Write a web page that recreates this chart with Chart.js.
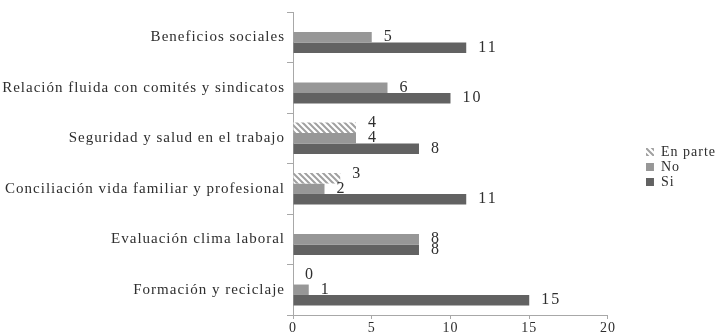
<!DOCTYPE html>
<html>
<head>
<meta charset="utf-8">
<script src="https://cdn.jsdelivr.net/npm/chart.js@4"></script>
<style>
  html, body { margin: 0; padding: 0; background: #fff; }
  #wrap { width: 719px; height: 336px; }
</style>
</head>
<body>
<div id="wrap"><canvas id="chart"></canvas></div>
<script>
const categories = [
  'Beneficios sociales',
  'Relación fluida con comités y sindicatos',
  'Seguridad y salud en el trabajo',
  'Conciliación vida familiar y profesional',
  'Evaluación clima laboral',
  'Formación y reciclaje'
];
const enParte = [null, null, 4, 3, null, 0];
const no = [5, 6, 4, 2, 8, 1];
const si = [11, 10, 8, 11, 8, 15];
const xTicks = [0, 5, 10, 15, 20];

const TEXT = '#2e2e2e';
const AXIS = '#a8a8a8';
const SERIF = "'Liberation Serif', 'Times New Roman', serif";

// diagonal stripes for "En parte"
function hatch() {
  const c = document.createElement('canvas');
  c.width = 6; c.height = 6;
  const g = c.getContext('2d');
  g.fillStyle = '#fff';
  g.fillRect(0, 0, 6, 6);
  g.strokeStyle = '#a0a0a0';
  g.lineWidth = 2;
  g.beginPath();
  g.moveTo(-1, -1); g.lineTo(7, 7);
  g.moveTo(-4, 2); g.lineTo(4, 10);
  g.moveTo(2, -4); g.lineTo(10, 4);
  g.stroke();
  return g.createPattern(c, 'repeat');
}

// wider type spacing for all canvas text
const spacing = {
  id: 'spacing',
  beforeLayout(chart) { chart.ctx.letterSpacing = '1px'; },
  beforeDraw(chart) { chart.ctx.letterSpacing = '1px'; }
};

// keep the legend near the right edge, a little above centre
const legendNudge = {
  id: 'legendNudge',
  afterLayout(chart) {
    const lg = chart.legend;
    lg.left += 37; lg.right += 37;
    lg.top -= 7; lg.bottom -= 7;
  }
};

// value printed right of each bar
const valueLabels = {
  id: 'valueLabels',
  afterDatasetsDraw(chart) {
    const ctx = chart.ctx;
    ctx.save();
    ctx.letterSpacing = '2px';
    ctx.font = '16px ' + SERIF;
    ctx.fillStyle = TEXT;
    ctx.textAlign = 'left';
    ctx.textBaseline = 'middle';
    chart.data.datasets.forEach((ds, i) => {
      const meta = chart.getDatasetMeta(i);
      meta.data.forEach((bar, j) => {
        const v = ds.data[j];
        if (v === null) return;
        ctx.fillText(String(v), bar.x + 12, bar.y + (ds.labelShift || 0));
      });
    });
    ctx.restore();
  }
};

new Chart(document.getElementById('chart'), {
  type: 'bar',
  data: {
    labels: categories,
    datasets: [
      { label: 'En parte', data: enParte, backgroundColor: hatch(), labelShift: -5 },
      { label: 'No', data: no, backgroundColor: '#979797' },
      { label: 'Si', data: si, backgroundColor: '#626262' }
    ]
  },
  options: {
    indexAxis: 'y',
    responsive: true,
    maintainAspectRatio: false,
    animation: false,
    categoryPercentage: 0.62,
    barPercentage: 1.0,
    layout: { padding: { top: 12, right: 30, bottom: 0, left: 0 } },
    plugins: {
      tooltip: { enabled: false },
      legend: {
        position: 'right',
        labels: {
          boxWidth: 8,
          boxHeight: 8,
          padding: 1,
          color: TEXT,
          font: { family: SERIF, size: 14, lineHeight: 1.03 }
        }
      }
    },
    scales: {
      x: {
        min: 0,
        max: 20,
        afterBuildTicks(scale) { scale.ticks = xTicks.map(v => ({ value: v })); },
        afterFit(scale) { scale.height = 21; },
        grid: { drawOnChartArea: false, drawTicks: true, tickLength: 4, color: AXIS },
        border: { display: true, color: AXIS },
        ticks: { color: TEXT, padding: 1, font: { family: SERIF, size: 14 } }
      },
      y: {
        afterFit(scale) { scale.width = 293; },
        grid: { drawOnChartArea: false, drawTicks: true, tickLength: 6, color: AXIS, offset: true },
        border: { display: true, color: AXIS },
        ticks: { color: TEXT, padding: 2, font: { family: SERIF, size: 15 } }
      }
    }
  },
  plugins: [spacing, legendNudge, valueLabels]
});
</script>
</body>
</html>
